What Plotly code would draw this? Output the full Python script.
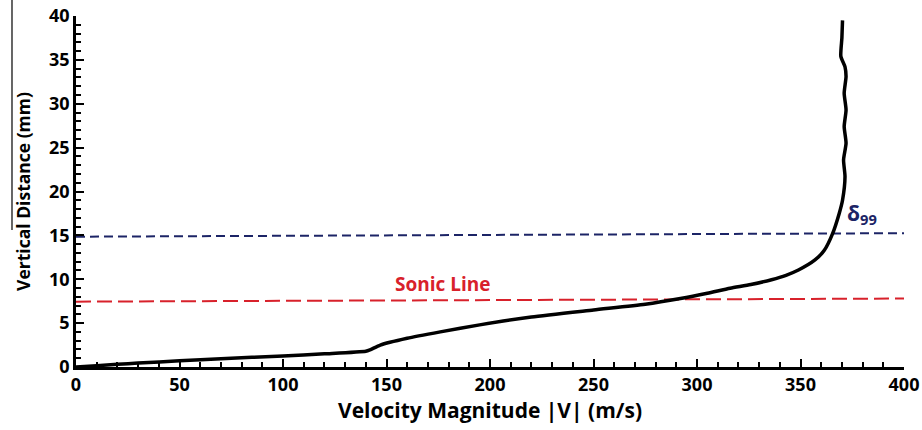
import plotly.graph_objects as go

# Velocity profile (m/s) vs vertical distance (mm)
velocity = [0, 10, 20, 30, 50, 70, 100, 120, 140, 142, 147, 160, 176, 195, 220, 250, 275,
            292, 305, 316, 326, 336, 343, 349, 357, 361.5, 365.5, 368.7, 370.3, 371.5, 370.8, 372, 371.1,
            372, 371.1, 372, 371.5, 369.5, 370, 370.3]
distance = [0, 0.15, 0.3, 0.45, 0.7, 0.95, 1.25, 1.5, 1.8, 1.95, 2.5, 3.27, 4.0, 4.8, 5.7, 6.5, 7.15,
            7.8, 8.4, 8.97, 9.4, 9.95, 10.45, 11.05, 12.2, 13.3, 15.2, 17.5, 19.0, 21.7, 23.6, 25.5, 27.4,
            29.3, 31.2, 33.1, 34.2, 35.4, 37.5, 39.5]

sonic_x = [0, 400]
sonic_y = [7.45, 7.8]
delta_x = [0, 400]
delta_y = [14.85, 15.25]

x_ticks = [0, 50, 100, 150, 200, 250, 300, 350, 400]
y_ticks = [0, 5, 10, 15, 20, 25, 30, 35, 40]

FONT = "Open Sans"

fig = go.Figure()
fig.add_trace(go.Scatter(x=delta_x, y=delta_y, mode="lines",
                         line=dict(color="#1c2466", width=2, dash="9px,5px"), hoverinfo="skip"))
fig.add_trace(go.Scatter(x=sonic_x, y=sonic_y, mode="lines",
                         line=dict(color="#d8212b", width=2, dash="15px,6px"), hoverinfo="skip"))
fig.add_trace(go.Scatter(x=velocity, y=distance, mode="lines",
                         line=dict(color="black", width=3.5, shape="spline", smoothing=0.6)))

fig.add_annotation(x=177, y=9.5, text="Sonic Line", showarrow=False,
                   font=dict(family=FONT, size=19, color="#d8212b", weight="bold"))
fig.add_annotation(x=371.5, y=17.4, text="δ<sub>99</sub>", showarrow=False, xanchor="left",
                   font=dict(family=FONT, size=21, color="#1c2466", weight="bold"))

fig.add_shape(type="line", xref="paper", yref="paper", x0=-0.0773, x1=-0.0773, y0=0.39, y1=1.05,
              line=dict(color="black", width=1.2))

fig.update_layout(
    width=922, height=430,
    margin=dict(l=76, r=18, t=16, b=63),
    plot_bgcolor="white", paper_bgcolor="white",
    showlegend=False,
    font=dict(family=FONT, color="black"),
)
fig.update_xaxes(range=[0, 400], tickvals=x_ticks, showgrid=False, zeroline=False, automargin=False,
                 showline=True, linecolor="black", linewidth=2.5,
                 ticks="inside", ticklen=8, tickwidth=2, tickcolor="black",
                 minor=dict(dtick=10, ticks="inside", ticklen=5, tickwidth=1.5, tickcolor="black"),
                 tickfont=dict(family=FONT, size=18, weight="bold"),
                 title=dict(text="Velocity Magnitude |V| (m/s)", standoff=4,
                            font=dict(family=FONT, size=21, weight="bold")))
fig.update_yaxes(range=[0, 40], tickvals=y_ticks, showgrid=False, zeroline=False, automargin=False,
                 showline=True, linecolor="black", linewidth=2.5,
                 ticks="inside", ticklen=8, tickwidth=2, tickcolor="black",
                 minor=dict(dtick=1, ticks="inside", ticklen=5, tickwidth=1.5, tickcolor="black"),
                 tickfont=dict(family=FONT, size=18, weight="bold"),
                 title=dict(text="Vertical Distance (mm)", standoff=14,
                            font=dict(family=FONT, size=17.5, weight="bold")))

fig.write_html("out.html", config={"displayModeBar": False},
               post_script="document.body.style.margin='0';")
